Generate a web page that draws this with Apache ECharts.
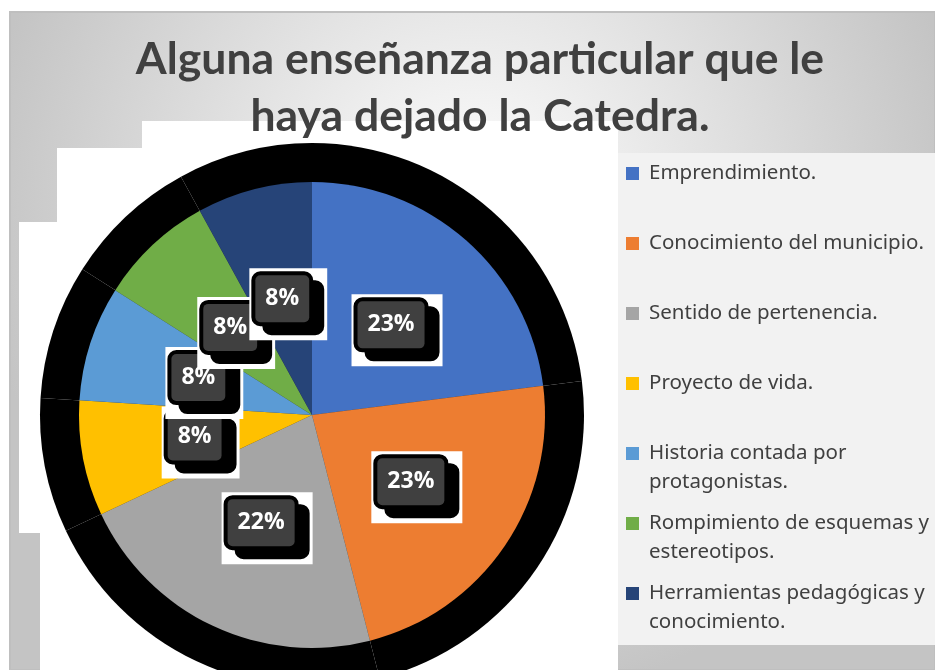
<!DOCTYPE html>
<html>
<head>
<meta charset="utf-8">
<script src="https://cdn.jsdelivr.net/npm/echarts@6/dist/echarts.min.js"></script>
<style>
  html, body { margin: 0; padding: 0; background: #fff; }
  #main { width: 935px; height: 670px; }
</style>
</head>
<body>
<div id="main"></div>
<script>
// datos
const titulo = 'Alguna enseñanza particular que le\nhaya dejado la Catedra.'
const categorias = [
  'Emprendimiento.',
  'Conocimiento del municipio.',
  'Sentido de pertenencia.',
  'Proyecto de vida.',
  'Historia contada por protagonistas.',
  'Rompimiento de esquemas y estereotipos.',
  'Herramientas pedagógicas y conocimiento.'
]
const valores = [23, 23, 22, 8, 8, 8, 8]
const colores = ['#4472c4', '#ed7d31', '#a5a5a5', '#ffc000', '#5b9bd5', '#70ad47', '#264478']

// parte el nombre en lineas de max 27 caracteres (como Excel en la leyenda)
function partir (txt, max) {
  const palabras = txt.split(' ')
  const lineas = []
  let actual = ''
  palabras.forEach(p => {
    if (actual && (actual + ' ' + p).length > max) {
      lineas.push(actual)
      actual = p
    } else {
      actual = actual ? actual + ' ' + p : p
    }
  })
  lineas.push(actual)
  return lineas
}

const datos = categorias.map((c, i) => ({ name: c, value: valores[i], itemStyle: { color: colores[i] } }))
const sombra = categorias.map((c, i) => ({ name: c, value: valores[i] }))

const chart = echarts.init(document.getElementById('main'))
const option = {
  animation: false,
  title: {
    text: titulo,
    left: 480,
    top: 31,
    padding: 0,
    textAlign: 'center',
    textStyle: {
      fontFamily: 'Lato',
      fontWeight: 'bold',
      fontSize: 44.5,
      lineHeight: 57,
      color: '#404040'
    },
    z: 6
  },
  graphic: [
    {
      type: 'rect',
      z: 0,
      shape: { x: 10, y: 12, width: 925, height: 658 },
      style: {
        fill: {
          type: 'radial', x: 0.5, y: 0.3, r: 0.75,
          colorStops: [{ offset: 0, color: '#ffffff' }, { offset: 1, color: '#c4c4c4' }]
        },
        stroke: '#bfbfbf',
        lineWidth: 2
      }
    },
    { type: 'rect', z: 0, shape: { x: 142, y: 121, width: 476, height: 549 }, style: { fill: '#fff' } },
    { type: 'rect', z: 0, shape: { x: 57, y: 148, width: 561, height: 522 }, style: { fill: '#fff' } },
    { type: 'rect', z: 0, shape: { x: 19, y: 222, width: 599, height: 311 }, style: { fill: '#fff' } },
    { type: 'rect', z: 0, shape: { x: 40, y: 533, width: 578, height: 137 }, style: { fill: '#fff' } },
    { type: 'rect', z: 0, shape: { x: 618, y: 153, width: 317, height: 492 }, style: { fill: '#f2f2f2' } }
  ],
  legend: {
    orient: 'vertical',
    left: 626,
    top: 130,
    padding: 0,
    itemGap: -17,
    itemWidth: 13,
    itemHeight: 13,
    icon: 'rect',
    data: categorias,
    formatter: function (name) {
      const l = partir(name, 27)
      if (l.length === 1) l.push(' ')
      return ' \n' + l.join('\n')
    },
    textStyle: {
      fontFamily: 'Noto Sans',
      fontSize: 20.5,
      lineHeight: 29,
      color: '#404040',
      padding: [0, 0, 0, 5]
    },
    z: 4
  },
  series: [
    {
      name: 'Enseñanza',
      type: 'pie',
      center: [312, 415],
      radius: 233,
      startAngle: 90,
      clockwise: true,
      avoidLabelOverlap: false,
      z: 2,
      emphasis: { scale: false },
      data: datos,
      label: {
        show: true,
        position: 'inside',
        formatter: p => '{v|' + Math.round(p.percent) + '%}',
        backgroundColor: '#fff',
        padding: [7, 18, 18, 6],
        rich: {
          v: {
            color: '#fff',
            fontFamily: 'Open Sans',
            fontWeight: 'bold',
            fontSize: 23,
            height: 47,
            lineHeight: 47,
            padding: [0, 10],
            backgroundColor: '#404040',
            borderColor: '#000',
            borderWidth: 4,
            borderRadius: 5,
            shadowColor: '#000',
            shadowBlur: 0,
            shadowOffsetX: 11,
            shadowOffsetY: 9
          }
        }
      },
      labelLayout: { hideOverlap: false, dx: 6, dy: 5 },
      labelLine: { show: false }
    },
    {
      // sombra negra detras del pastel
      name: 'sombra',
      type: 'pie',
      center: [312, 415],
      radius: 272,
      startAngle: 90,
      silent: true,
      z: 1,
      legendHoverLink: false,
      data: sombra,
      itemStyle: { color: '#000' },
      label: { show: false },
      labelLine: { show: false }
    }
  ]
}
option && chart.setOption(option)
</script>
</body>
</html>
